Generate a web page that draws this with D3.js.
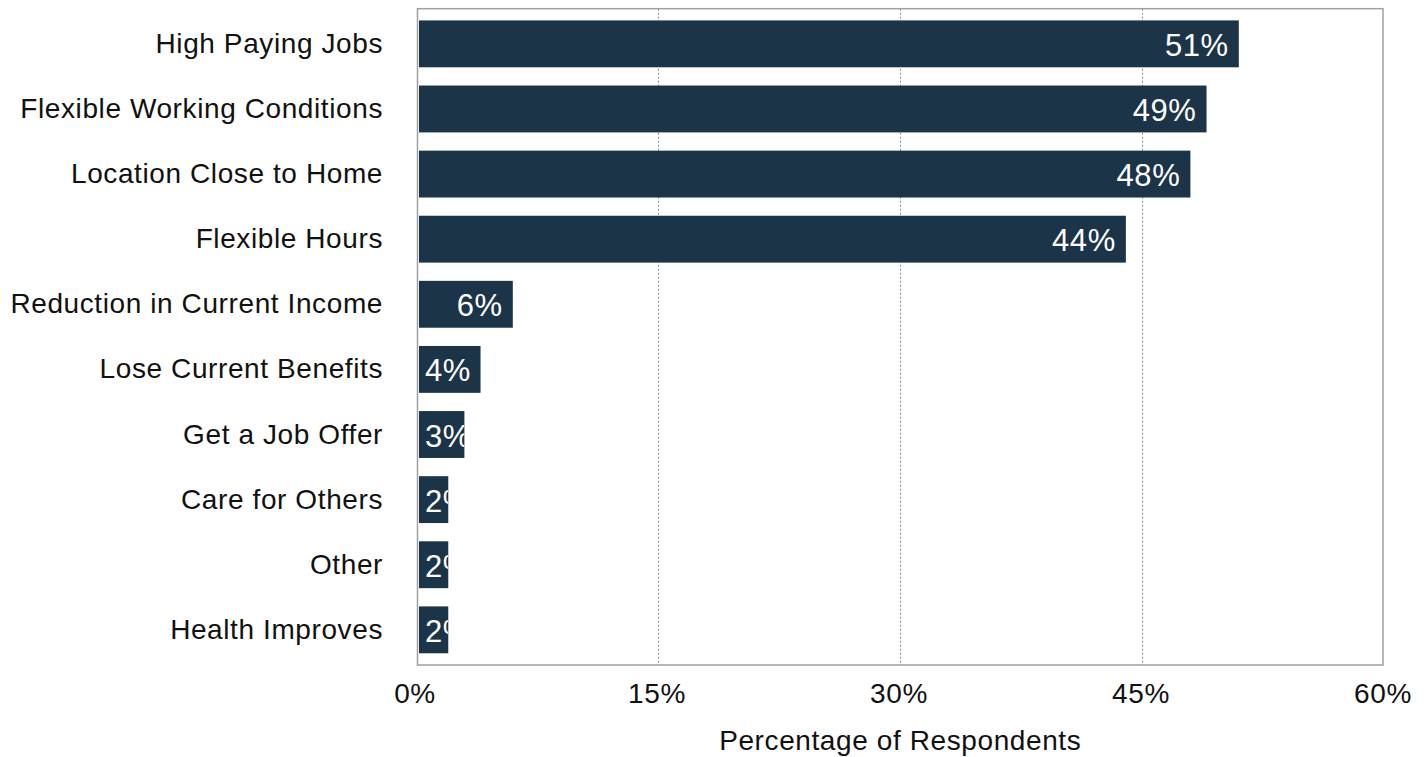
<!DOCTYPE html>
<html>
<head>
<meta charset="utf-8">
<script src="https://cdn.jsdelivr.net/npm/d3@7"></script>
<style>
  body { margin: 0; background: #fff; }
  text { font-family: "Liberation Sans", Arial, sans-serif; }
</style>
</head>
<body>
<div id="chart"></div>
<script>
// categories, top to bottom
var categories = ["High Paying Jobs", "Flexible Working Conditions", "Location Close to Home",
  "Flexible Hours", "Reduction in Current Income", "Lose Current Benefits",
  "Get a Job Offer", "Care for Others", "Other", "Health Improves"];
var values = [51, 49, 48, 44, 6, 4, 3, 2, 2, 2];
var tickValues = [0, 15, 30, 45, 60];
var xTitle = "Percentage of Respondents";

var width = 1427, height = 757;
var plot = {left: 417.5, right: 1383, top: 8.7, bottom: 665};

var svg = d3.select("#chart").append("svg")
  .attr("width", width)
  .attr("height", height);

var x = d3.scaleLinear().domain([0, 60]).range([416, 1384]);
var y = d3.scaleBand().domain(categories)
  .range([plot.top, plot.bottom])
  .paddingInner(0.28)
  .paddingOuter(0.18);

// gridlines
svg.append("g").selectAll("line")
  .data(tickValues.slice(1, -1))
  .enter().append("line")
  .attr("x1", function(d) { return Math.round(x(d)) + 0.5; })
  .attr("x2", function(d) { return Math.round(x(d)) + 0.5; })
  .attr("y1", plot.top)
  .attr("y2", plot.bottom)
  .attr("stroke", "#8a8a8a")
  .attr("stroke-width", 1)
  .attr("stroke-dasharray", "2,2");

// frame
svg.append("rect")
  .attr("x", plot.left)
  .attr("y", plot.top)
  .attr("width", plot.right - plot.left)
  .attr("height", plot.bottom - plot.top)
  .attr("fill", "none")
  .attr("stroke", "#a0a0a0")
  .attr("stroke-width", 1.5);

var barX0 = 419;
var defs = svg.append("defs");

var bars = svg.append("g").selectAll("g")
  .data(values)
  .enter().append("g");

bars.each(function(d, i) {
  defs.append("clipPath").attr("id", "clip" + i)
    .append("rect")
    .attr("x", barX0)
    .attr("y", y(categories[i]))
    .attr("width", x(d) - barX0)
    .attr("height", y.bandwidth());
});

bars.append("rect")
  .attr("x", barX0)
  .attr("y", function(d, i) { return y(categories[i]); })
  .attr("width", function(d) { return x(d) - barX0; })
  .attr("height", y.bandwidth())
  .attr("fill", "#1c3448");

var labels = bars.append("text")
  .attr("clip-path", function(d, i) { return "url(#clip" + i + ")"; })
  .attr("fill", "#fff")
  .attr("font-size", 31)
  .attr("letter-spacing", 0.6)
  .attr("y", function(d, i) { return y(categories[i]) + y.bandwidth() / 2 + 12; })
  .text(function(d) { return d + "%"; });

labels.attr("x", function(d) {
  var w = this.getComputedTextLength();
  return Math.max(barX0 + 6, x(d) - 10 - w);
});

// category labels
svg.append("g").selectAll("text")
  .data(categories)
  .enter().append("text")
  .attr("x", 383)
  .attr("y", function(d) { return y(d) + y.bandwidth() / 2 + 9; })
  .attr("text-anchor", "end")
  .attr("font-size", 28)
  .attr("letter-spacing", 0.6)
  .attr("fill", "#111")
  .text(function(d) { return d; });

// x tick labels
svg.append("g").selectAll("text")
  .data(tickValues)
  .enter().append("text")
  .attr("x", function(d) { return x(d) - 1; })
  .attr("y", 703)
  .attr("text-anchor", "middle")
  .attr("font-size", 28)
  .attr("letter-spacing", 0.6)
  .attr("fill", "#111")
  .text(function(d) { return d + "%"; });

svg.append("text")
  .attr("x", (plot.left + plot.right) / 2)
  .attr("y", 750)
  .attr("text-anchor", "middle")
  .attr("font-size", 28)
  .attr("letter-spacing", 0.6)
  .attr("fill", "#111")
  .text(xTitle);
</script>
</body>
</html>
